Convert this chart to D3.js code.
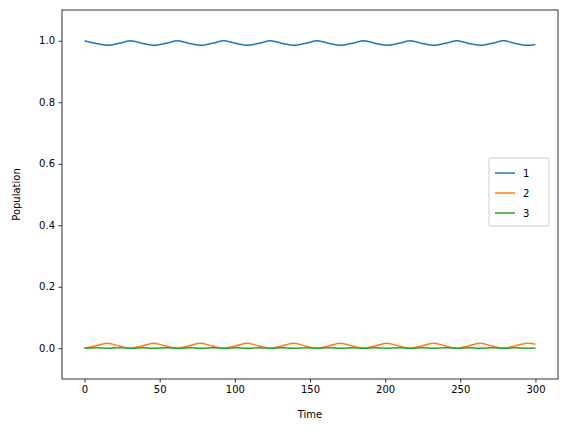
<!DOCTYPE html>
<html><head><meta charset="utf-8">
<script src="https://cdn.jsdelivr.net/npm/d3@7"></script>
<style>body{margin:0;background:#fff}text{font-family:"DejaVu Sans",sans-serif}</style>
</head><body><div id="chart"></div>
<script>
// --- Data ---
const times = [0,7.75,15.5,23.25,31,38.75,46.5,54.25,62,69.75,77.5,85.25,93,100.75,108.5,116.25,124,131.75,139.5,147.25,
  155,162.75,170.5,178.25,186,193.75,201.5,209.25,217,224.75,232.5,240.25,248,255.75,263.5,271.25,279,286.75,294.5,300];
const pop1 = [1.000,0.991,0.985,0.992,1.000,0.991,0.985,0.992,1.000,0.991,0.985,0.992,1.000,0.991,0.985,0.992,1.000,0.991,0.985,0.992,
  1.000,0.991,0.985,0.992,1.000,0.991,0.985,0.992,1.000,0.991,0.985,0.992,1.000,0.991,0.985,0.992,1.000,0.991,0.985,0.988];
const pop2 = [0.000,0.008,0.016,0.007,0.000,0.008,0.016,0.007,0.000,0.008,0.016,0.007,0.000,0.008,0.016,0.007,0.000,0.008,0.016,0.007,
  0.000,0.008,0.016,0.007,0.000,0.008,0.016,0.007,0.000,0.008,0.016,0.007,0.000,0.008,0.016,0.007,0.000,0.008,0.016,0.013];
const pop3 = [0.000,0.002,0.000,0.002,0.000,0.002,0.000,0.002,0.000,0.002,0.000,0.002,0.000,0.002,0.000,0.002,0.000,0.002,0.000,0.002,
  0.000,0.002,0.000,0.002,0.000,0.002,0.000,0.002,0.000,0.002,0.000,0.002,0.000,0.002,0.000,0.002,0.000,0.002,0.000,0.001];
const seriesNames = ['1','2','3'];
const seriesColors = ['#1f77b4','#ff7f0e','#2ca02c'];
const xTicks = [0,50,100,150,200,250,300];
const yTicks = [0,0.2,0.4,0.6,0.8,1.0];

// --- Layout ---
const W = 567, H = 432;
const m = {left: 62, right: 9, top: 10, bottom: 53};

const svg = d3.select('#chart').append('svg').attr('width', W).attr('height', H);
const x = d3.scaleLinear().domain([-15, 315]).range([m.left, W - m.right]);
const y = d3.scaleLinear().domain([-0.1, 1.1]).range([H - m.bottom, m.top]);

const line = d3.line().x(d => x(d[0])).y(d => y(d[1])).curve(d3.curveCatmullRom);
[pop1, pop2, pop3].forEach((vals, i) => {
    svg.append('path')
        .datum(times.map((t, j) => [t, vals[j]]))
        .attr('d', line)
        .attr('fill', 'none')
        .attr('stroke', seriesColors[i])
        .attr('stroke-width', 1.5);
});

// axes
const xAxis = svg.append('g').attr('transform', `translate(0,${H - m.bottom})`)
    .call(d3.axisBottom(x).tickValues(xTicks).tickSize(3.5).tickPadding(3.5));
const yAxis = svg.append('g').attr('transform', `translate(${m.left},0)`)
    .call(d3.axisLeft(y).tickValues(yTicks).tickFormat(d3.format('.1f')).tickSize(3.5).tickPadding(3.5));
[xAxis, yAxis].forEach(a => {
    a.select('.domain').remove();
    a.selectAll('text').attr('font-size', 10).attr('fill', '#000');
    a.selectAll('line').attr('stroke', '#000').attr('stroke-width', 0.8);
});

svg.append('rect')
    .attr('x', m.left).attr('y', m.top)
    .attr('width', W - m.left - m.right).attr('height', H - m.top - m.bottom)
    .attr('fill', 'none').attr('stroke', '#000').attr('stroke-width', 0.8);

svg.append('text').attr('x', (m.left + W - m.right) / 2).attr('y', 418)
    .attr('text-anchor', 'middle').attr('font-size', 10).text('Time');
svg.append('text').attr('transform', `translate(20,${(m.top + H - m.bottom) / 2}) rotate(-90)`)
    .attr('text-anchor', 'middle').attr('font-size', 10).text('Population');

// legend
const lg = svg.append('g').attr('transform', 'translate(489,158)');
lg.append('rect').attr('width', 60).attr('height', 68).attr('rx', 2)
    .attr('fill', '#fff').attr('fill-opacity', 0.8).attr('stroke', '#ccc');
seriesNames.forEach((n, i) => {
    const yy = 15 + i * 20;
    lg.append('line').attr('x1', 6).attr('x2', 26).attr('y1', yy).attr('y2', yy)
        .attr('stroke', seriesColors[i]).attr('stroke-width', 1.5);
    lg.append('text').attr('x', 34).attr('y', yy + 3.5).attr('font-size', 10).text(n);
});
</script></body></html>
